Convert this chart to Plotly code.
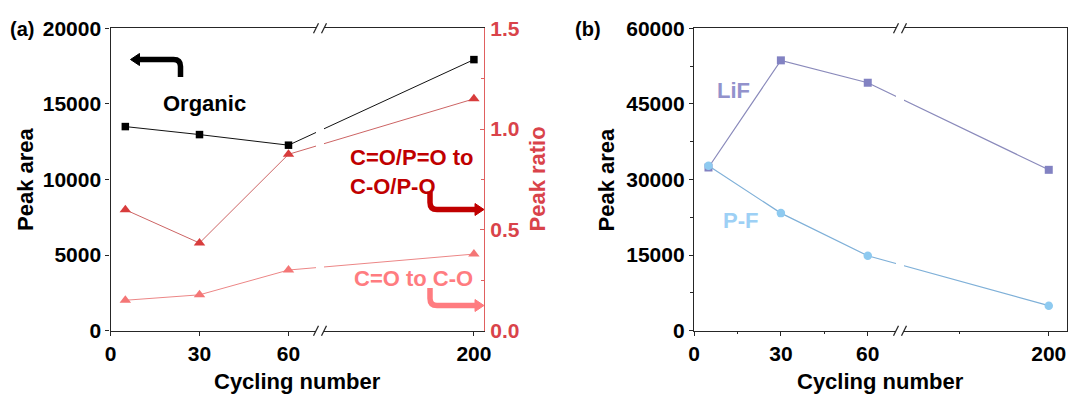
import plotly.graph_objects as go

# ---------------- data ----------------
cycles = [5, 30, 60, 200]
organic_area = [13500, 12970, 12270, 17930]
ratio_co_po = [0.60, 0.435, 0.875, 1.15]
ratio_co = [0.151, 0.178, 0.301, 0.38]
lif_area = [32380, 53640, 49200, 31920]
pf_area = [32710, 23330, 14870, 4960]

x_tick_cycles = [0, 30, 60, 200]
x_tick_labels = ["0", "30", "60", "200"]
b_minor_cycles = [15, 45, 170]
left_a_ticks = [0, 5000, 10000, 15000, 20000]
right_a_ticks = [0.0, 0.5, 1.0, 1.5]
right_a_minor = [0.25, 0.75, 1.25]
left_b_ticks = [0, 15000, 30000, 45000, 60000]
left_b_minor = [7500, 22500, 37500, 52500]

# ---------------- broken x axis transform ----------------
BREAK_AT = 71


def broken(c):
    return c if c <= BREAK_AT else BREAK_AT + (c - 150) * 1.03


W, H = 1070, 397


def px(x):
    return x / W


def py(y):
    return 1 - y / H


FONT = "Liberation Sans, Arial, Helvetica, sans-serif"
AX = "#262626"
RED_AX = "#e06060"
RED_LBL = "#d9434a"
DARK_RED = "#c00000"
LIGHT_RED = "#ff7c80"

TF = dict(family=FONT, size=21, color="black", weight="bold")

xa = [px(110.5), px(484)]
xb = [px(694), px(1067)]
yd = [py(330.7), py(28.3)]

xs = [broken(c) for c in cycles]

fig = go.Figure()

fig.add_trace(go.Scatter(
    x=xs, y=organic_area, mode="lines+markers", xaxis="x", yaxis="y",
    line=dict(color="#111111", width=1),
    marker=dict(symbol="square", size=7.5, color="black"), cliponaxis=False,
    showlegend=False))
fig.add_trace(go.Scatter(
    x=xs, y=ratio_co_po, mode="lines+markers", xaxis="x", yaxis="y2",
    line=dict(color="#cc6464", width=1),
    marker=dict(symbol="triangle-up", size=10, color="#d83c3c"), cliponaxis=False,
    showlegend=False))
fig.add_trace(go.Scatter(
    x=xs, y=ratio_co, mode="lines+markers", xaxis="x", yaxis="y2",
    line=dict(color="#ec8686", width=1),
    marker=dict(symbol="triangle-up", size=10, color="#f47676"), cliponaxis=False,
    showlegend=False))
fig.add_trace(go.Scatter(
    x=xs, y=lif_area, mode="lines+markers", xaxis="x2", yaxis="y3",
    line=dict(color="#8a8abb", width=1.2),
    marker=dict(symbol="square", size=8, color="#8282c2"), cliponaxis=False,
    showlegend=False))
fig.add_trace(go.Scatter(
    x=xs, y=pf_area, mode="lines+markers", xaxis="x2", yaxis="y3",
    line=dict(color="#7fb0d8", width=1.2),
    marker=dict(symbol="circle", size=8.5, color="#8ecaf0"), cliponaxis=False,
    showlegend=False))

common_x = dict(
    tickvals=[broken(c) for c in x_tick_cycles], ticktext=x_tick_labels,
    ticks="outside", ticklen=4, tickwidth=1.3, tickcolor=AX,
    showline=True, linecolor=AX, linewidth=1.3, mirror=True,
    showgrid=False, zeroline=False, tickfont=TF, fixedrange=True,
    automargin=False,
)

fig.update_layout(
    width=W, height=H, autosize=False,
    margin=dict(l=0, r=0, t=0, b=0, pad=0),
    paper_bgcolor="white", plot_bgcolor="white",
    font=dict(family=FONT),
    xaxis=dict(domain=xa, range=[0, 125.9], anchor="y", **common_x),
    yaxis=dict(domain=yd, range=[0, 20000], anchor="x",
               tickvals=left_a_ticks, ticktext=[str(v) for v in left_a_ticks],
               ticks="outside", ticklen=4, tickwidth=1.3, tickcolor=AX,
               showline=True, linecolor=AX, linewidth=1.3, mirror=False,
               showgrid=False, zeroline=False, tickfont=TF, fixedrange=True,
               automargin=False),
    yaxis2=dict(overlaying="y", side="right", anchor="x", range=[0, 1.5],
                tickvals=right_a_ticks, ticktext=[f"{v:.1f}" for v in right_a_ticks],
                ticks="inside", ticklen=4, tickwidth=1.3, tickcolor=RED_AX,
                showline=True, linecolor=RED_AX, linewidth=1.3,
                showgrid=False, zeroline=False,
                tickfont=dict(family=FONT, size=21, color=RED_LBL, weight="bold"),
                ticklabelstandoff=1, automargin=False,
                minor=dict(tickvals=right_a_minor, ticks="inside", ticklen=3,
                           tickwidth=1.2, tickcolor=RED_AX, showgrid=False),
                fixedrange=True),
    xaxis2=dict(domain=xb, range=[0, 128.8], anchor="y3",
                minor=dict(tickvals=[broken(c) for c in b_minor_cycles],
                           ticks="outside", ticklen=2.5, tickwidth=1.2,
                           tickcolor=AX, showgrid=False),
                **common_x),
    yaxis3=dict(domain=yd, range=[0, 60000], anchor="x2",
                tickvals=left_b_ticks, ticktext=[str(v) for v in left_b_ticks],
                ticks="outside", ticklen=4, tickwidth=1.3, tickcolor=AX,
                showline=True, linecolor=AX, linewidth=1.3, mirror=True,
                showgrid=False, zeroline=False, tickfont=TF, automargin=False,
                minor=dict(tickvals=left_b_minor, ticks="outside", ticklen=2.5,
                           tickwidth=1.2, tickcolor=AX, showgrid=False),
                fixedrange=True),
)

shapes = []


def axis_break(cx, y_top, y_bot, gap_l, gap_r):
    # white strip interrupting lines and axes
    shapes.append(dict(type="rect", xref="paper", yref="paper", layer="above",
                       x0=px(gap_l), x1=px(gap_r), y0=py(y_bot + 3), y1=py(y_top - 3),
                       fillcolor="white", line=dict(width=0)))
    for yy in (y_top, y_bot):
        for sx in (cx - 4, cx + 4):
            shapes.append(dict(type="line", xref="paper", yref="paper", layer="above",
                               x0=px(sx - 2.5), y0=py(yy + 5), x1=px(sx + 2.5), y1=py(yy - 5),
                               line=dict(color=AX, width=1.2)))


axis_break(320, 28.3, 330.7, 316, 324)
axis_break(900, 28.3, 330.7, 896, 904)


def bent_arrow(x_v, y_start, y_h, x_tip, color, width=5.5, head_len=9, head_half=6, direction=1):
    r = 7
    if direction == 1:  # down then right
        path = (f"M {px(x_v)},{py(y_start)} L {px(x_v)},{py(y_h - r)} "
                f"Q {px(x_v)},{py(y_h)} {px(x_v + r)},{py(y_h)} "
                f"L {px(x_tip - head_len + 1)},{py(y_h)}")
        head = (f"M {px(x_tip)},{py(y_h)} L {px(x_tip - head_len)},{py(y_h - head_half)} "
                f"L {px(x_tip - head_len)},{py(y_h + head_half)} Z")
    else:  # up then left
        path = (f"M {px(x_v)},{py(y_start)} L {px(x_v)},{py(y_h + r)} "
                f"Q {px(x_v)},{py(y_h)} {px(x_v - r)},{py(y_h)} "
                f"L {px(x_tip + head_len - 1)},{py(y_h)}")
        head = (f"M {px(x_tip)},{py(y_h)} L {px(x_tip + head_len)},{py(y_h - head_half)} "
                f"L {px(x_tip + head_len)},{py(y_h + head_half)} Z")
    shapes.append(dict(type="path", xref="paper", yref="paper", path=path,
                       line=dict(color=color, width=width)))
    shapes.append(dict(type="path", xref="paper", yref="paper", path=head,
                       fillcolor=color, line=dict(color=color, width=1)))


bent_arrow(180.5, 77, 59.5, 130.5, "black", direction=-1)
bent_arrow(430, 191.5, 209.5, 484, DARK_RED)
bent_arrow(430, 288, 305.5, 484, LIGHT_RED)

fig.update_layout(shapes=shapes)

ann = []


def text(x, y, s, color="black", size=22, xanchor="center", angle=0, align="center"):
    ann.append(dict(x=px(x), y=py(y), xref="paper", yref="paper", text=s,
                    showarrow=False, xanchor=xanchor, yanchor="middle",
                    textangle=angle, align=align,
                    font=dict(family=FONT, size=size, color=color, weight="bold")))


text(22, 29, "(a)", size=20)
text(588, 29, "(b)", size=20)
text(25.5, 179.5, "Peak area", angle=-90)
text(606, 179.5, "Peak area", angle=-90)
text(537, 179.5, "Peak ratio", color=RED_LBL, angle=-90)
text(297, 381, "Cycling number")
text(880.5, 381, "Cycling number")
text(204, 103, "Organic")
text(348, 172.5, "C=O/P=O to<br>C-O/P-O", color=DARK_RED, xanchor="left", align="left")
text(475, 278, "C=O to C-O", color=LIGHT_RED, xanchor="right")
text(733, 90, "LiF", color="#9292cc")
text(740.5, 220, "P-F", color="#9dd0f5")

fig.update_layout(annotations=ann)

fig.write_html("out.html", config={"displayModeBar": False},
               post_script="document.body.style.margin='0px';")
